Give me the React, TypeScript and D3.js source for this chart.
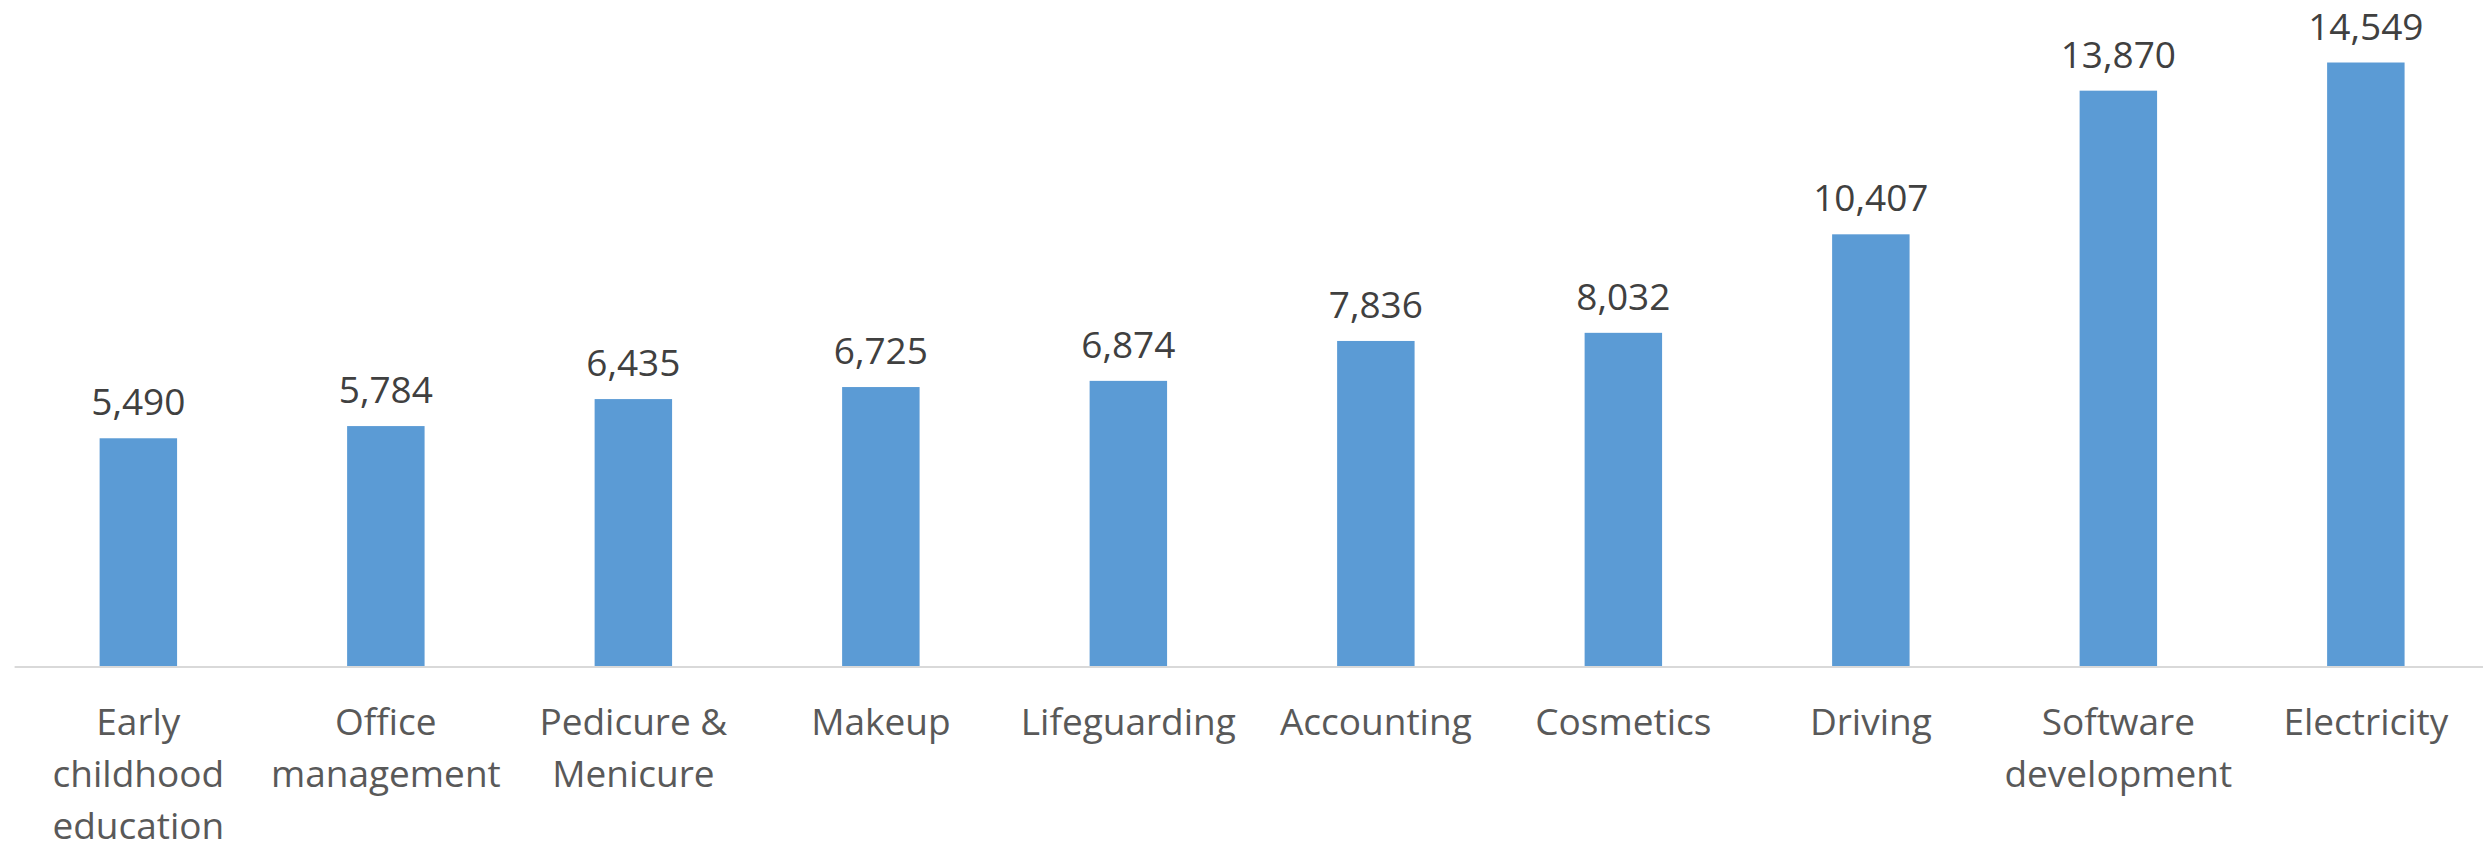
import * as d3 from 'd3'
import React from 'react'

const categories = [
  ['Early', 'childhood', 'education'],
  ['Office', 'management'],
  ['Pedicure &', 'Menicure'],
  ['Makeup'],
  ['Lifeguarding'],
  ['Accounting'],
  ['Cosmetics'],
  ['Driving'],
  ['Software', 'development'],
  ['Electricity'],
]

const values = [5490, 5784, 6435, 6725, 6874, 7836, 8032, 10407, 13870, 14549]

const W = 2483
const H = 845
const left = 14.6
const plotRight = 2489.6
const baseY = 666
const font = '"Open Sans", "Liberation Sans", sans-serif'

export default function App() {
  const keys = categories.map((c) => c.join(' '))

  const x = d3.scaleBand<string>().domain(keys).range([left, plotRight]).paddingInner(0.687).paddingOuter(0.3435)
  const y = d3.scaleLinear().domain([0, 16000]).range([baseY, baseY - 16000 * 0.04148])

  const fmt = d3.format(',')

  return (
    <svg width={W} height={H} style={{ position: 'absolute', left: 0, top: 0, background: '#fff' }}>
      <g>
        {values.map((v, i) => (
          <rect
            key={keys[i]}
            x={x(keys[i])}
            y={y(v)}
            width={x.bandwidth()}
            height={baseY - y(v)}
            fill="#5b9bd5"
          />
        ))}
      </g>
      <line x1={left} x2={W} y1={baseY + 1} y2={baseY + 1} stroke="#d9d9d9" strokeWidth={2} />
      <g fontFamily={font} fontSize={37} fill="#404040" textAnchor="middle">
        {values.map((v, i) => (
          <text key={keys[i]} x={(x(keys[i]) ?? 0) + x.bandwidth() / 2} y={y(v) - 23}>
            {fmt(v)}
          </text>
        ))}
      </g>
      <g fontFamily={font} fontSize={37} fill="#595959" textAnchor="middle">
        {categories.map((lines, i) => (
          <text key={keys[i]} x={(x(keys[i]) ?? 0) + x.bandwidth() / 2} y={735}>
            {lines.map((l, j) => (
              <tspan key={j} x={(x(keys[i]) ?? 0) + x.bandwidth() / 2} dy={j === 0 ? 0 : 52}>
                {l}
              </tspan>
            ))}
          </text>
        ))}
      </g>
    </svg>
  )
}
